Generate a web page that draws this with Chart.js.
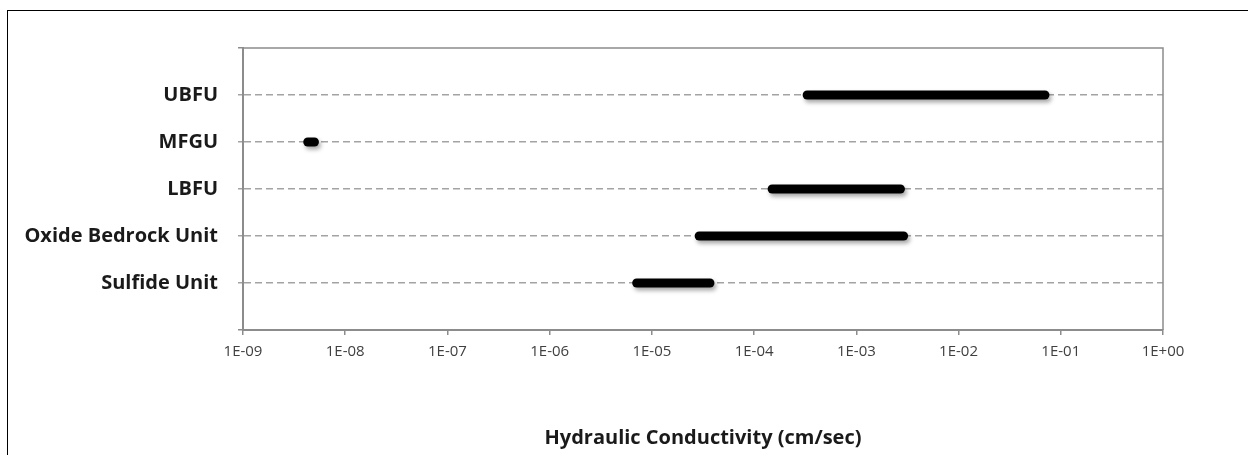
<!DOCTYPE html>
<html>
<head>
<meta charset="utf-8">
<script src="https://cdn.jsdelivr.net/npm/chart.js@4.4.1/dist/chart.umd.min.js"></script>
<style>
  html, body { margin: 0; padding: 0; background: #fff; }
  #wrap { position: relative; width: 1248px; height: 455px; overflow: hidden; }
  #frame { position: absolute; left: 7px; top: 10px; width: 1300px; height: 500px;
           border-top: 1px solid #000; border-left: 1px solid #000; pointer-events: none; }
  canvas { position: absolute; left: 0; top: 0; }
</style>
</head>
<body>
<div id="wrap">
  <canvas id="c" width="1248" height="455"></canvas>
  <div id="frame"></div>
</div>
<script>
// ---- data ----
const categories = ['UBFU', 'MFGU', 'LBFU', 'Oxide Bedrock Unit', 'Sulfide Unit'];
const lowValues  = [3.3e-4, 4.3e-9, 1.5e-4, 2.9e-5, 7.1e-6];
const highValues = [7.0e-2, 5.0e-9, 2.7e-3, 2.9e-3, 3.7e-5];
const tickValues = [1e-9, 1e-8, 1e-7, 1e-6, 1e-5, 1e-4, 1e-3, 1e-2, 1e-1, 1];
const tickLabels = ['1E-09', '1E-08', '1E-07', '1E-06', '1E-05', '1E-04', '1E-03', '1E-02', '1E-01', '1E+00'];
const axisTitle = 'Hydraulic Conductivity (cm/sec)';

const n = categories.length;
const datasets = categories.map((name, i) => ({
  label: name,
  data: [{ x: lowValues[i], y: n - i }, { x: highValues[i], y: n - i }],
  showLine: true,
  borderColor: '#000',
  backgroundColor: '#000',
  borderWidth: 9,
  borderCapStyle: 'round',
  pointRadius: 0,
  pointHoverRadius: 0
}));

const gridGray = '#a3a3a3';
const axisGray = '#8c8c8c';

const shadowPlugin = {
  id: 'shadow',
  beforeDatasetsDraw(chart) {
    const ctx = chart.ctx;
    ctx.save();
    ctx.shadowColor = 'rgba(0,0,0,0.35)';
    ctx.shadowBlur = 4;
    ctx.shadowOffsetX = 2;
    ctx.shadowOffsetY = 3;
  },
  afterDatasetsDraw(chart) { chart.ctx.restore(); }
};

const frameLines = {
  id: 'frameLines',
  beforeDatasetsDraw(chart) {
    const { ctx, chartArea: a } = chart;
    ctx.save();
    ctx.strokeStyle = axisGray;
    ctx.lineWidth = 1.5;
    ctx.beginPath();
    ctx.moveTo(a.left, a.top);
    ctx.lineTo(a.right, a.top);
    ctx.lineTo(a.right, a.bottom);
    ctx.stroke();
    ctx.restore();
  }
};

new Chart(document.getElementById('c'), {
  type: 'scatter',
  data: { datasets },
  options: {
    responsive: false,
    animation: false,
    events: [],
    layout: { padding: { top: 48, right: 85, bottom: 0, left: 0 } },
    plugins: { legend: { display: false }, tooltip: { enabled: false } },
    scales: {
      x: {
        type: 'logarithmic',
        min: tickValues[0],
        max: tickValues[tickValues.length - 1],
        afterBuildTicks: s => { s.ticks = tickValues.map(v => ({ value: v })); },
        afterFit: s => { s.height = 125; },
        ticks: {
          autoSkip: false,
          maxRotation: 0,
          padding: 8,
          color: '#404040',
          font: { family: 'Open Sans', size: 15 },
          callback: (v, i) => tickLabels[i]
        },
        grid: { drawOnChartArea: false, color: axisGray, tickLength: 5, lineWidth: 1.5 },
        border: { color: axisGray, width: 2 },
        title: {
          display: true,
          text: axisTitle,
          color: '#1a1a1a',
          font: { family: 'Open Sans', size: 20, weight: 'bold' },
          padding: { top: 0, bottom: 5 }
        }
      },
      y: {
        type: 'linear',
        min: 0,
        max: n + 1,
        afterBuildTicks: s => {
          const t = [];
          for (let v = 0; v <= n + 1; v++) t.push({ value: v });
          s.ticks = t;
        },
        afterFit: s => { s.width = 243; },
        ticks: {
          autoSkip: false,
          padding: 20,
          color: '#1a1a1a',
          font: { family: 'Open Sans', size: 20, weight: 'bold' },
          callback: v => (v >= 1 && v <= n) ? categories[n - v] : ''
        },
        grid: {
          color: c => (c.tick && (c.tick.value === 0 || c.tick.value === n + 1)) ? 'rgba(0,0,0,0)' : gridGray,
          tickColor: c => (c.tick && (c.tick.value === 0 || c.tick.value === n + 1)) ? axisGray : gridGray,
          lineWidth: 1.5,
          tickLength: 5
        },
        border: { color: axisGray, width: 2, dash: [7, 4] }
      }
    }
  },
  plugins: [frameLines, shadowPlugin]
});
</script>
</body>
</html>
